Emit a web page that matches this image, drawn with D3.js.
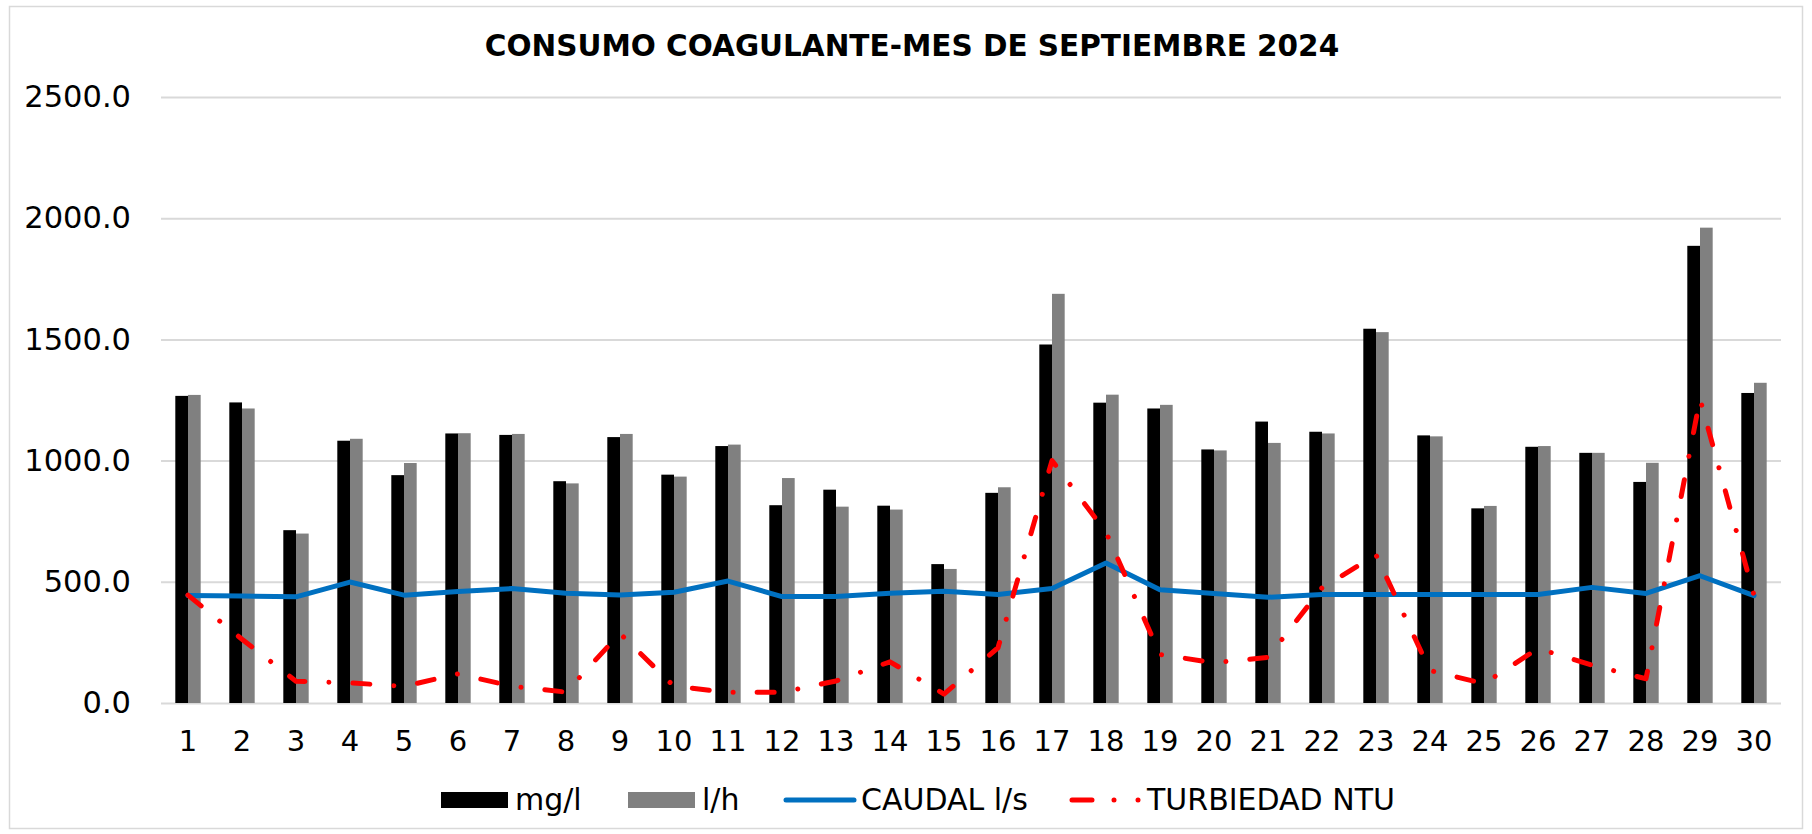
<!DOCTYPE html>
<html>
<head>
<meta charset="utf-8">
<script src="https://cdn.jsdelivr.net/npm/d3@7"></script>
<style>
  body { margin: 0; background: #fff; }
  svg text { font-family: "DejaVu Sans", Verdana, sans-serif; fill: #000; }
</style>
</head>
<body>
<svg id="chart"></svg>
<script>
// Days of the month (categories)
var dias = ["1", "2", "3", "4", "5", "6", "7", "8", "9", "10",
            "11", "12", "13", "14", "15", "16", "17", "18", "19", "20",
            "21", "22", "23", "24", "25", "26", "27", "28", "29", "30"];

// Series values
var mgL = [1267, 1240, 713, 1082, 940, 1112, 1106, 915, 1097, 942,
           1060, 816, 880, 814, 573, 867, 1479, 1239, 1215, 1046,
           1161, 1119, 1544, 1104, 803, 1057, 1032, 912, 1886, 1279];
var lH = [1271, 1215, 699, 1090, 990, 1113, 1110, 906, 1110, 934,
          1066, 928, 810, 798, 553, 890, 1688, 1272, 1230, 1042,
          1073, 1112, 1530, 1100, 813, 1060, 1032, 991, 1961, 1321];
var caudal = [443, 441, 438, 499, 445, 460, 472, 453, 446, 457,
              503, 439, 439, 453, 461, 448, 472, 578, 467, 452,
              436, 448, 448, 448, 448, 448, 477, 452, 525, 443];
var turbiedad = [445, 263, 90, 83, 69, 120, 69, 45, 287, 69,
                 44, 44, 91, 170, 37, 228, 1000, 705, 200, 166,
                 188, 475, 611, 134, 80, 225, 156, 100, 1255, 444];

// Axis ticks and legend labels
var yTicks = [0, 500, 1000, 1500, 2000, 2500];
var barSeries = ["mg/l", "l/h"];
var titulo = "CONSUMO COAGULANTE-MES DE SEPTIEMBRE 2024";

var width = 1812, height = 834;
var margin = {top: 97, right: 31, bottom: 131, left: 161};
var plotW = width - margin.left - margin.right;
var plotH = height - margin.top - margin.bottom;

var svg = d3.select("#chart")
    .attr("width", width)
    .attr("height", height);

// Chart area border
svg.append("rect")
    .attr("x", 9.5)
    .attr("y", 6.5)
    .attr("width", width - 19)
    .attr("height", height - 12)
    .attr("fill", "#fff")
    .attr("stroke", "#d9d9d9")
    .attr("stroke-width", 1.5);

svg.append("text")
    .attr("x", 912)
    .attr("y", 56)
    .attr("font-size", "29.5px")
    .attr("font-weight", "bold")
    .style("text-anchor", "middle")
    .text(titulo);

var g = svg.append("g")
    .attr("transform", "translate(" + margin.left + "," + margin.top + ")");

// Scales
var x0 = d3.scaleBand()
           .domain(dias)
           .range([0, plotW])
           .paddingInner(0.53)
           .paddingOuter(0.265);

var x1 = d3.scaleBand()
           .domain(barSeries)
           .range([0, x0.bandwidth()]);

var y = d3.scaleLinear()
          .domain([0, 2500])
          .range([plotH, 0]);

// Y axis with gridlines
var yAxis = g.append("g")
    .call(d3.axisLeft(y)
      .tickValues(yTicks)
      .tickFormat(d3.format(".1f"))
      .tickSize(-plotW)
      .tickPadding(30));
yAxis.select(".domain").remove();
yAxis.selectAll("line")
    .attr("stroke", "#d9d9d9")
    .attr("stroke-width", 2);
yAxis.selectAll("text")
    .attr("font-size", "30.5px")
    .attr("fill", "#000");

// X axis labels
var xAxis = g.append("g")
    .attr("transform", "translate(0," + plotH + ")")
    .call(d3.axisBottom(x0).tickSize(0).tickPadding(27));
xAxis.select(".domain").remove();
xAxis.selectAll("text")
    .attr("font-size", "29px")
    .attr("fill", "#000");

// Grouped bars
var rows = dias.map(function(d, i) {
  return {dia: d, values: [{key: "mg/l", v: mgL[i]}, {key: "l/h", v: lH[i]}]};
});
var colors = {"mg/l": "#000000", "l/h": "#808080"};

g.selectAll(".dia")
  .data(rows)
  .enter()
  .append("g")
    .attr("class", "dia")
    .attr("transform", function(d) { return "translate(" + x0(d.dia) + ",0)"; })
  .selectAll("rect")
  .data(function(d) { return d.values; })
  .enter()
  .append("rect")
    .attr("x", function(d) { return x1(d.key); })
    .attr("y", function(d) { return y(d.v); })
    .attr("width", x1.bandwidth())
    .attr("height", function(d) { return plotH - y(d.v); })
    .attr("fill", function(d) { return colors[d.key]; });

var cx = function(i) { return x0(dias[i]) + x0.bandwidth() / 2; };

var line = d3.line()
             .x(function(d, i) { return cx(i); })
             .y(function(d) { return y(d); });

// CAUDAL l/s
g.append("path")
    .datum(caudal)
    .attr("d", line)
    .attr("fill", "none")
    .attr("stroke", "#0070c0")
    .attr("stroke-width", 5)
    .attr("stroke-linejoin", "round")
    .attr("stroke-linecap", "round");

// TURBIEDAD NTU (long dash dot)
g.append("path")
    .datum(turbiedad)
    .attr("d", line)
    .attr("fill", "none")
    .attr("stroke", "#ff0000")
    .attr("stroke-width", 5)
    .attr("stroke-linecap", "round")
    .attr("stroke-linejoin", "round")
    .attr("stroke-dasharray", "17 24 0.01 24");

// Legend
var legY = 800;
var legend = svg.append("g");

legend.append("rect")
    .attr("x", 441).attr("y", legY - 8)
    .attr("width", 67).attr("height", 16)
    .attr("fill", colors["mg/l"]);
legend.append("text")
    .attr("x", 515).attr("y", legY + 10)
    .attr("font-size", "30px")
    .text("mg/l");

legend.append("rect")
    .attr("x", 628).attr("y", legY - 8)
    .attr("width", 67).attr("height", 16)
    .attr("fill", colors["l/h"]);
legend.append("text")
    .attr("x", 702).attr("y", legY + 10)
    .attr("font-size", "30px")
    .text("l/h");

legend.append("line")
    .attr("x1", 786).attr("x2", 854)
    .attr("y1", legY).attr("y2", legY)
    .attr("stroke", "#0070c0")
    .attr("stroke-width", 5)
    .attr("stroke-linecap", "round");
legend.append("text")
    .attr("x", 861).attr("y", legY + 10)
    .attr("font-size", "30px")
    .text("CAUDAL l/s");

legend.append("line")
    .attr("x1", 1072).attr("x2", 1140)
    .attr("y1", legY).attr("y2", legY)
    .attr("stroke", "#ff0000")
    .attr("stroke-width", 5)
    .attr("stroke-linecap", "round")
    .attr("stroke-dasharray", "20 22 0.01 24 0.01 100");
legend.append("text")
    .attr("x", 1147).attr("y", legY + 10)
    .attr("font-size", "30px")
    .text("TURBIEDAD NTU");
</script>
</body>
</html>
